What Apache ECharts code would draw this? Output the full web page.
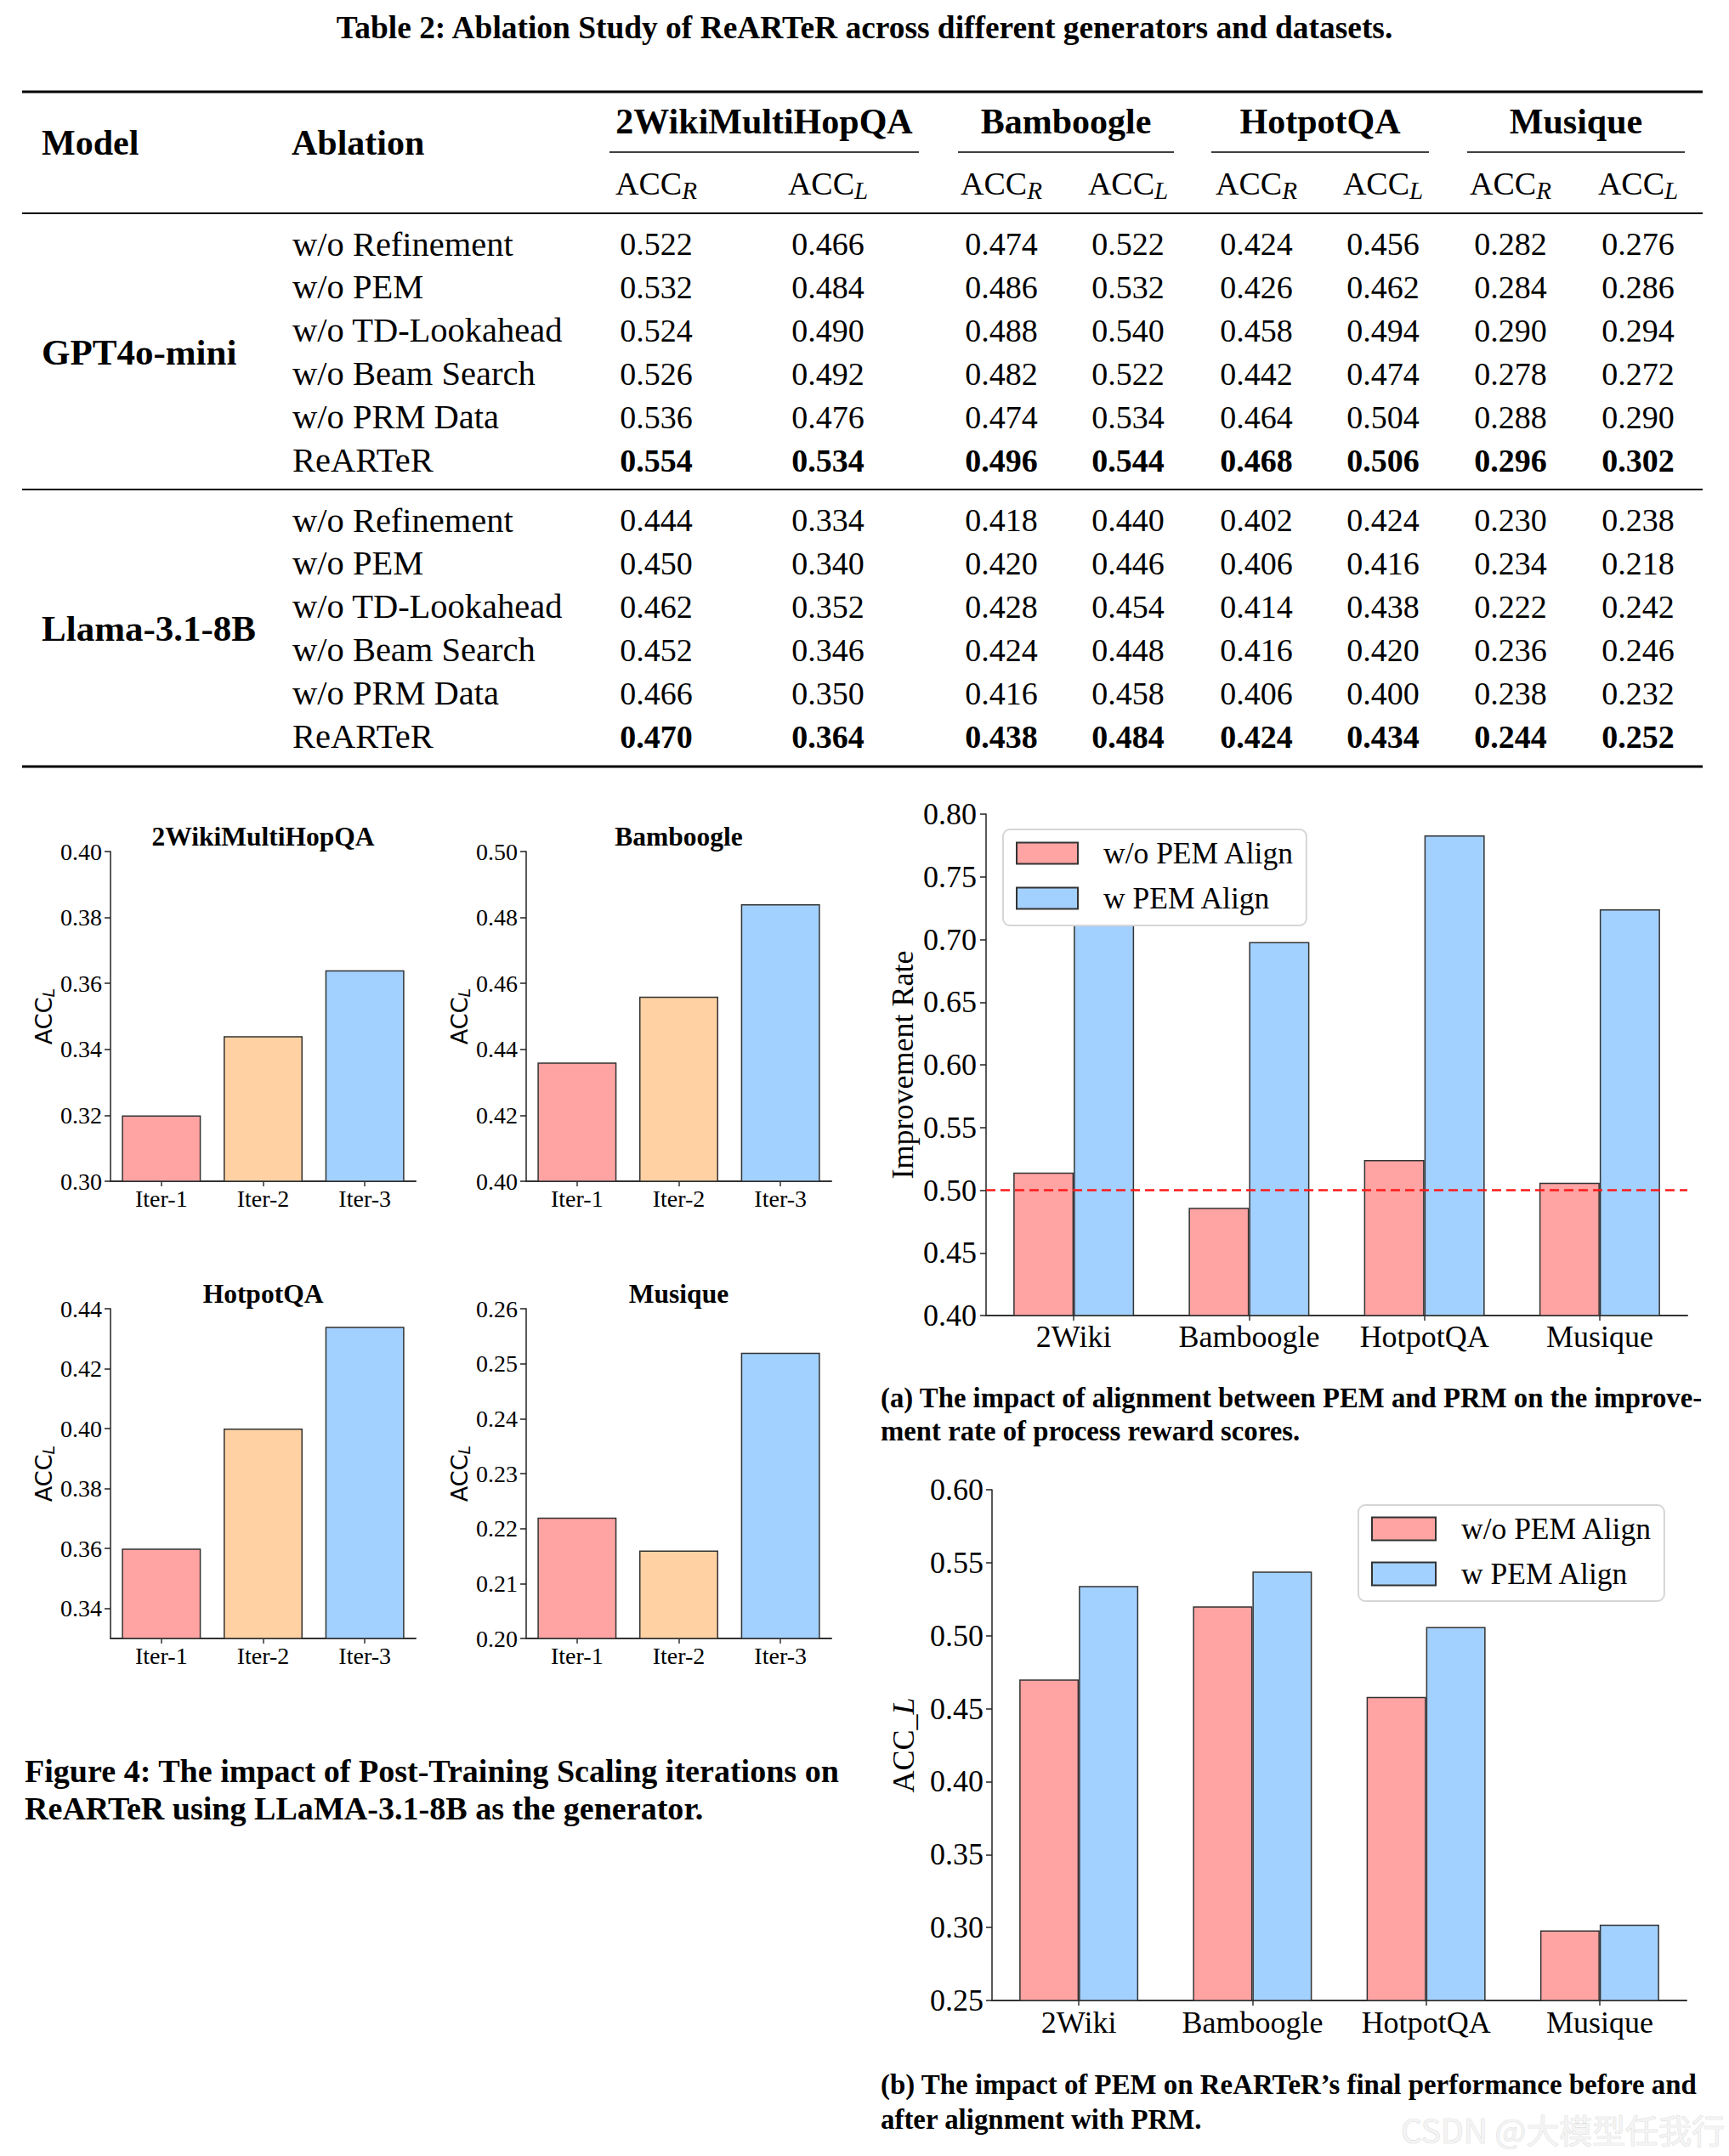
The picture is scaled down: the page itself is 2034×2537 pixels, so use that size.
<!DOCTYPE html>
<html><head><meta charset="utf-8">
<script src="https://cdn.jsdelivr.net/npm/echarts@6/dist/echarts.min.js"></script>
<style>html,body{margin:0;padding:0;background:#fff}#c{width:2034px;height:2537px}</style>
</head><body><div id="c"></div><script>
// ---------------- DATA ----------------
const tableTitle = 'Table 2: Ablation Study of ReARTeR across different generators and datasets.';
const tableDatasets = ['2WikiMultiHopQA', 'Bamboogle', 'HotpotQA', 'Musique'];
const metricSubs = ['R', 'L'];
const modelNames = ['GPT4o-mini', 'Llama-3.1-8B'];
const ablationNames = ['w/o Refinement', 'w/o PEM', 'w/o TD-Lookahead', 'w/o Beam Search', 'w/o PRM Data', 'ReARTeR'];
const gptScores = [
  [0.522, 0.466, 0.474, 0.522, 0.424, 0.456, 0.282, 0.276],
  [0.532, 0.484, 0.486, 0.532, 0.426, 0.462, 0.284, 0.286],
  [0.524, 0.490, 0.488, 0.540, 0.458, 0.494, 0.290, 0.294],
  [0.526, 0.492, 0.482, 0.522, 0.442, 0.474, 0.278, 0.272],
  [0.536, 0.476, 0.474, 0.534, 0.464, 0.504, 0.288, 0.290],
  [0.554, 0.534, 0.496, 0.544, 0.468, 0.506, 0.296, 0.302]
];
const llamaScores = [
  [0.444, 0.334, 0.418, 0.440, 0.402, 0.424, 0.230, 0.238],
  [0.450, 0.340, 0.420, 0.446, 0.406, 0.416, 0.234, 0.218],
  [0.462, 0.352, 0.428, 0.454, 0.414, 0.438, 0.222, 0.242],
  [0.452, 0.346, 0.424, 0.448, 0.416, 0.420, 0.236, 0.246],
  [0.466, 0.350, 0.416, 0.458, 0.406, 0.400, 0.238, 0.232],
  [0.470, 0.364, 0.438, 0.484, 0.424, 0.434, 0.244, 0.252]
];
const iterLabels = ['Iter-1', 'Iter-2', 'Iter-3'];
const iterTitles = ['2WikiMultiHopQA', 'Bamboogle', 'HotpotQA', 'Musique'];
const iter2Wiki = [0.320, 0.344, 0.364];
const iterBamboogle = [0.436, 0.456, 0.484];
const iterHotpot = [0.360, 0.400, 0.434];
const iterMusique = [0.222, 0.216, 0.252];
const hotpotTicks = [0.34, 0.36, 0.38, 0.40, 0.42, 0.44];
const alignCats = ['2Wiki', 'Bamboogle', 'HotpotQA', 'Musique'];
const seriesNames = ['w/o PEM Align', 'w PEM Align'];
const improveWithout = [0.514, 0.486, 0.524, 0.506];
const improveWith = [0.740, 0.698, 0.783, 0.724];
const accWithout = [0.470, 0.520, 0.458, 0.298];
const accWith = [0.534, 0.544, 0.506, 0.302];
const fig4Caption = ['Figure 4: The impact of Post-Training Scaling iterations on', 'ReARTeR using LLaMA-3.1-8B as the generator.'];
const capA = ['(a) The impact of alignment between PEM and PRM on the improve-', 'ment rate of process reward scores.'];
const capB = ['(b) The impact of PEM on ReARTeR\u2019s final performance before and', 'after alignment with PRM.'];
const watermark = 'CSDN @\u5927\u6a21\u578b\u4efb\u6211\u884c';

// ---------------- STYLE / LAYOUT ----------------
const serif = '"Liberation Serif", "Times New Roman", serif';
const sans = '"DejaVu Sans", sans-serif';
const cjk = '"Noto Sans CJK SC", sans-serif';
const iterColors = ['#FFA3A3', '#FFD1A3', '#A3D1FF'];
const redC = '#FFA3A3', blueC = '#A3D1FF', edge = '#333';

const mctx = document.createElement('canvas').getContext('2d');
function fit(text, weight, family, width) {
  mctx.font = weight + ' 100px ' + family;
  return 100 * width / mctx.measureText(text).width;
}

const G = [];
function txt(x, y, text, size, o) {
  o = o || {};
  const st = {text: text, fontSize: size, fontFamily: o.family || serif, fontWeight: o.weight || 'normal',
    fill: o.fill || '#000', textAlign: o.align || 'left', textVerticalAlign: 'middle', verticalAlign: 'middle'};
  if (o.style) Object.assign(st, o.style);
  G.push({type: 'text', x: x, y: y, silent: true, z: 50, style: st});
}
function rule(x1, x2, y, w) {
  G.push({type: 'line', silent: true, z: 50, shape: {x1: x1, y1: y, x2: x2, y2: y}, style: {stroke: '#000', lineWidth: w}});
}

// ---- table ----
const titleSize = fit(tableTitle, 'bold', serif, 1245);
txt(1017, 32, tableTitle, titleSize, {weight: 'bold', align: 'center'});
const tL = 26, tR = 2003;
rule(tL, tR, 108, 3);
const hdrSize = 42;
txt(49, 168, 'Model', hdrSize, {weight: 'bold'});
txt(343, 168, 'Ablation', hdrSize, {weight: 'bold'});
const groupX = [899, 1254, 1553, 1854];
const groupRules = [[717, 1081], [1127, 1381], [1425, 1681], [1726, 1982]];
tableDatasets.forEach(function (d, i) {
  txt(groupX[i], 143, d, hdrSize, {weight: 'bold', align: 'center'});
  rule(groupRules[i][0], groupRules[i][1], 179, 1.5);
});
const colX = [772, 974, 1178, 1327, 1478, 1627, 1777, 1927];
colX.forEach(function (x, j) {
  G.push({type: 'text', x: x, y: 216, silent: true, z: 50, style: {
    text: '{a|ACC}{s|' + metricSubs[j % 2] + '}', textAlign: 'center', textVerticalAlign: 'middle', verticalAlign: 'middle', fill: '#000',
    rich: {a: {fontSize: 38, fontFamily: serif, fill: '#000', lineHeight: 40},
           s: {fontSize: 29, fontFamily: serif, fontStyle: 'italic', fill: '#000', lineHeight: 29, padding: [16, 0, 0, 0]}}
  }});
});
rule(tL, tR, 251, 2);
const blocks = [{rows: gptScores, y0: 287}, {rows: llamaScores, y0: 612}];
const rowStep = 50.9;
blocks.forEach(function (b, bi) {
  const yMid = b.y0 + rowStep * (b.rows.length - 1) / 2;
  txt(49, yMid, modelNames[bi], 43, {weight: 'bold'});
  b.rows.forEach(function (r, ri) {
    const y = b.y0 + ri * rowStep;
    const best = ri === b.rows.length - 1;
    txt(344, y, ablationNames[ri], 40.5);
    r.forEach(function (v, ci) {
      txt(colX[ci], y, v.toFixed(3), 38, {align: 'center', weight: best ? 'bold' : 'normal'});
    });
  });
});
rule(tL, tR, 576, 2);
rule(tL, tR, 902, 3);

// ---- captions ----
const c4 = fit(fig4Caption[0], 'bold', serif, 959);
txt(29, 2084, fig4Caption[0], c4, {weight: 'bold'});
txt(29, 2128, fig4Caption[1], c4, {weight: 'bold'});
const ca = fit(capA[0], 'bold', serif, 967);
txt(1036, 1645, capA[0], ca, {weight: 'bold'});
txt(1036, 1684, capA[1], ca, {weight: 'bold'});
const cb = fit(capB[0], 'bold', serif, 961);
txt(1036, 2453, capB[0], cb, {weight: 'bold'});
txt(1036, 2494, capB[1], cb, {weight: 'bold'});
const wm = fit(watermark, 'normal', cjk, 381);
txt(1648, 2505, watermark, wm, {family: cjk, fill: '#f4f4f4', style: {stroke: '#d0d0d0', lineWidth: 0.7}});

// ---- charts ----
const grids = [], xAxes = [], yAxes = [], series = [];
const small = [
  {values: iter2Wiki, min: 0.30, max: 0.40, interval: 0.02, left: 130, top: 1002},
  {values: iterBamboogle, min: 0.40, max: 0.50, interval: 0.02, left: 619, top: 1002},
  {values: iterHotpot, min: 0.33, max: 0.44, ticks: hotpotTicks, left: 130, top: 1540},
  {values: iterMusique, min: 0.20, max: 0.26, interval: 0.01, left: 619, top: 1540}
];
function xAx(gi, cats, fs, margin) {
  return {type: 'category', gridIndex: gi, data: cats,
    axisLine: {show: true, onZero: false, lineStyle: {color: '#333', width: 2}},
    axisTick: {show: true, alignWithLabel: true, length: 6, lineStyle: {color: '#333', width: 1.5}},
    axisLabel: {color: '#000', fontFamily: serif, fontSize: fs, margin: margin, interval: 0, hideOverlap: false},
    splitLine: {show: false}};
}
function yAx(gi, c, fs, margin, name, nameGap, nameStyle) {
  const ax = {type: 'value', gridIndex: gi, min: c.min, max: c.max,
    axisLine: {show: true, lineStyle: {color: '#222', width: 1.5}},
    axisTick: {show: true, length: 7, lineStyle: {color: '#222', width: 1.5}},
    axisLabel: {color: '#000', fontFamily: serif, fontSize: fs, margin: margin, formatter: function (v) { return v.toFixed(2); }},
    splitLine: {show: false},
    name: name, nameLocation: 'middle', nameGap: nameGap, nameTextStyle: nameStyle};
  if (c.interval) ax.interval = c.interval;
  if (c.ticks) { ax.axisLabel.customValues = c.ticks; ax.axisTick.customValues = c.ticks; }
  return ax;
}
const smallName = {rich: {
  a: {fontFamily: sans, fontSize: 27, color: '#000', lineHeight: 30},
  s: {fontFamily: sans, fontStyle: 'italic', fontSize: 19, color: '#000', lineHeight: 19, padding: [11, 0, 0, 0]}
}};
small.forEach(function (c, gi) {
  grids.push({left: c.left, top: c.top, width: 359, height: 388});
  xAxes.push(xAx(gi, iterLabels, 28, 6));
  yAxes.push(yAx(gi, c, 28, 10, '{a|ACC}{s|L}', 64, smallName));
  series.push({type: 'bar', xAxisIndex: gi, yAxisIndex: gi, barWidth: 93,
    itemStyle: {borderColor: edge, borderWidth: 1.5},
    data: c.values.map(function (v, i) { return {value: v, itemStyle: {color: iterColors[i]}}; })});
  txt(c.left + 179.5, c.top - 18, iterTitles[gi], 31.5, {weight: 'bold', align: 'center'});
});
// (a)
grids.push({left: 1160, top: 958, width: 825, height: 590});
xAxes.push(xAx(4, alignCats, 36, 7));
yAxes.push(yAx(4, {min: 0.40, max: 0.80, interval: 0.05}, 36, 11, 'Improvement Rate', 80,
  {fontFamily: serif, fontSize: 36, color: '#000'}));
series.push({name: seriesNames[0], type: 'bar', xAxisIndex: 4, yAxisIndex: 4, data: improveWithout, barWidth: 71, barGap: '0%',
  itemStyle: {color: redC, borderColor: edge, borderWidth: 1.5}});
series.push({name: seriesNames[1], type: 'bar', xAxisIndex: 4, yAxisIndex: 4, data: improveWith, barWidth: 71, barGap: '0%',
  itemStyle: {color: blueC, borderColor: edge, borderWidth: 1.5},
  markLine: {silent: true, symbol: 'none', label: {show: false}, animation: false,
    lineStyle: {color: '#ff1a1a', type: [11, 6], width: 2.5}, data: [{yAxis: 0.5}]}});
// (b)
grids.push({left: 1167, top: 1753, width: 817, height: 601});
xAxes.push(xAx(5, alignCats, 36, 8));
yAxes.push(yAx(5, {min: 0.25, max: 0.60, interval: 0.05}, 36, 10, '{a|ACC_}{s|L}', 86,
  {rich: {a: {fontFamily: serif, fontSize: 36, color: '#000'}, s: {fontFamily: serif, fontStyle: 'italic', fontSize: 36, color: '#000'}}}));
series.push({name: seriesNames[0], type: 'bar', xAxisIndex: 5, yAxisIndex: 5, data: accWithout, barWidth: 70, barGap: '0%',
  itemStyle: {color: redC, borderColor: edge, borderWidth: 1.5}});
series.push({name: seriesNames[1], type: 'bar', xAxisIndex: 5, yAxisIndex: 5, data: accWith, barWidth: 70, barGap: '0%',
  itemStyle: {color: blueC, borderColor: edge, borderWidth: 1.5}});

function legendAt(left, top, iw, ih) {
  return {orient: 'vertical', left: left, top: top, z: 30, icon: 'rect', itemWidth: iw, itemHeight: ih, itemGap: 17,
    padding: [10, 14, 14, 15], backgroundColor: '#fff', borderColor: '#d6d6d6', borderWidth: 2, borderRadius: 8,
    selectedMode: false, data: seriesNames,
    textStyle: {fontFamily: serif, fontSize: 35.5, color: '#000', lineHeight: 35, padding: [0, 0, 0, 25]}};
}

const chart = echarts.init(document.getElementById('c'), null, {renderer: 'svg'});
chart.setOption({
  animation: false,
  backgroundColor: '#fff',
  grid: grids, xAxis: xAxes, yAxis: yAxes, series: series,
  legend: [legendAt(1180, 976, 72, 25), legendAt(1598, 1771, 75, 27)],
  graphic: {elements: G}
});
</script></body></html>
